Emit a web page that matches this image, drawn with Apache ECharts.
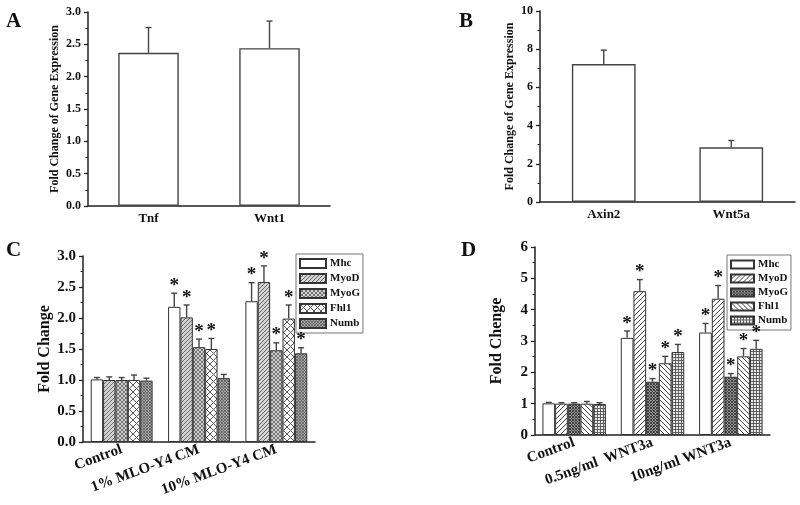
<!DOCTYPE html>
<html><head><meta charset="utf-8">
<script src="https://cdn.jsdelivr.net/npm/echarts@6/dist/echarts.min.js"></script>
<style>html,body{margin:0;padding:0;background:#fff}#c{width:800px;height:505px}</style>
</head><body><div id="c"></div>
<script>
// ---------- data ----------
const aCats = ['Tnf', 'Wnt1'];
const aVals = [2.37, 2.44];
const aErrTop = [2.76, 2.86];

const bCats = ['Axin2', 'Wnt5a'];
const bVals = [7.22, 2.86];
const bErrTop = [7.95, 3.22];

const genes = ['Mhc', 'MyoD', 'MyoG', 'Fhl1', 'Numb'];

const cCats = ['Control', '1% MLO-Y4 CM', '10% MLO-Y4 CM'];
const cMhc  = [1.01, 2.18, 2.27];
const cMyoD = [1.00, 2.01, 2.58];
const cMyoG = [1.00, 1.53, 1.48];
const cFhl1 = [1.00, 1.50, 1.99];
const cNumb = [0.99, 1.03, 1.43];
const cMhcErr  = [1.04, 2.40, 2.57];
const cMyoDErr = [1.05, 2.21, 2.84];
const cMyoGErr = [1.04, 1.66, 1.60];
const cFhl1Err = [1.08, 1.67, 2.21];
const cNumbErr = [1.03, 1.09, 1.52];
const cMhcStar  = [0, 1, 1];
const cMyoDStar = [0, 1, 1];
const cMyoGStar = [0, 1, 1];
const cFhl1Star = [0, 1, 1];
const cNumbStar = [0, 0, 1];

const dCats = ['Control', '0.5ng/ml  WNT3a', '10ng/ml WNT3a'];
const dMhc  = [1.01, 3.10, 3.27];
const dMyoD = [1.00, 4.59, 4.35];
const dMyoG = [1.00, 1.70, 1.86];
const dFhl1 = [1.00, 2.29, 2.51];
const dNumb = [0.99, 2.65, 2.75];
const dMhcErr  = [1.04, 3.32, 3.56];
const dMyoDErr = [1.03, 4.96, 4.77];
const dMyoGErr = [1.03, 1.80, 1.96];
const dFhl1Err = [1.07, 2.51, 2.76];
const dNumbErr = [1.03, 2.89, 3.02];
const dMhcStar  = [0, 1, 1];
const dMyoDStar = [0, 1, 1];
const dMyoGStar = [0, 1, 1];
const dFhl1Star = [0, 1, 1];
const dNumbStar = [0, 1, 1];

const aTicks = {min: 0, max: 3, interval: 0.5};
const bTicks = {min: 0, max: 10, interval: 2};
const cTicks = {min: 0, max: 3, interval: 0.5};
const dTicks = {min: 0, max: 6, interval: 1};

// ---------- helpers ----------
const FONT = "'Liberation Serif','Times New Roman',serif";
function pat(size, bg, fg, kinds, lw) {
  const c = document.createElement('canvas');
  c.width = c.height = size;
  const g = c.getContext('2d');
  g.fillStyle = bg; g.fillRect(0, 0, size, size);
  g.strokeStyle = fg; g.lineWidth = lw || 1;
  g.beginPath();
  kinds.forEach(k => {
    if (k === '/') {
      g.moveTo(-1, size + 1); g.lineTo(size + 1, -1);
      g.moveTo(-1, 1); g.lineTo(1, -1);
      g.moveTo(size - 1, size + 1); g.lineTo(size + 1, size - 1);
    }
    if (k === '\\') {
      g.moveTo(-1, -1); g.lineTo(size + 1, size + 1);
      g.moveTo(size - 1, -1); g.lineTo(size + 1, 1);
      g.moveTo(-1, size - 1); g.lineTo(1, size + 1);
    }
    if (k === '+') {
      g.moveTo(0, 0.5); g.lineTo(size, 0.5);
      g.moveTo(0.5, 0); g.lineTo(0.5, size);
    }
  });
  g.stroke();
  return {image: c, repeat: 'repeat'};
}
const cFills = [
  '#ffffff',
  pat(4, '#d4d4d4', '#666', ['/'], 1),
  pat(4, '#d0d0d0', '#6a6a6a', ['/', '\\'], 0.9),
  pat(7, '#ffffff', '#555', ['/', '\\'], 1),
  pat(3, '#a8a8a8', '#5a5a5a', ['/', '\\'], 0.8)
];
const dFills = [
  '#ffffff',
  pat(5, '#ffffff', '#444', ['/'], 1),
  pat(3, '#9a9a9a', '#333', ['/', '\\'], 0.9),
  pat(5, '#ffffff', '#444', ['\\'], 1),
  pat(3, '#e8e8e8', '#555', ['+'], 0.9)
];

function errSeries(axisIdx, idx, n, gap, vals, tops, stars, capHalf, starSize) {
  const data = vals.map((v, i) => [i, v, tops[i], stars ? stars[i] : 0]);
  return {
    type: 'custom', xAxisIndex: axisIdx, yAxisIndex: axisIdx, z: 10, silent: true,
    encode: {x: 0, y: 1}, data,
    renderItem(params, api) {
      const cat = api.value(0), v = api.value(1), e = api.value(2), s = api.value(3);
      const p = api.coord([cat, v]), t = api.coord([cat, e]);
      const band = api.size([1, 0])[0];
      const inner = band * (1 - gap);
      const bw = inner / n;
      const x = p[0] - inner / 2 + (idx + 0.5) * bw;
      const ch = [
        {type: 'line', shape: {x1: x, y1: p[1], x2: x, y2: t[1]}, style: {stroke: '#444', lineWidth: 1.4}},
        {type: 'line', shape: {x1: x - capHalf, y1: t[1], x2: x + capHalf, y2: t[1]}, style: {stroke: '#444', lineWidth: 1.4}}
      ];
      if (s) ch.push({type: 'text', x: x, y: t[1] + starSize * 0.12,
        style: {text: '*', fontSize: starSize, fontWeight: 'bold', fontFamily: FONT, fill: '#111', align: 'center', verticalAlign: 'bottom'}});
      return {type: 'group', children: ch};
    }
  };
}

function xAx(gi, cats, fs, rot, margin) {
  return {
    type: 'category', gridIndex: gi, data: cats,
    axisLine: {lineStyle: {color: '#222', width: 1.5}},
    axisTick: {alignWithLabel: true, length: 4, lineStyle: {color: '#222', width: 1.3}},
    axisLabel: {fontFamily: FONT, fontWeight: 'bold', fontSize: fs, color: '#111', rotate: rot, margin: margin, interval: 0}
  };
}
function yAx(gi, t, fs, name, nfs, ngap, fmt) {
  return {
    type: 'value', gridIndex: gi, min: t.min, max: t.max, interval: t.interval,
    name: name, nameLocation: 'middle', nameRotate: 90, nameGap: ngap,
    nameTextStyle: {fontFamily: FONT, fontWeight: 'bold', fontSize: nfs, color: '#111'},
    axisLine: {show: true, lineStyle: {color: '#222', width: 1.5}},
    axisTick: {show: true, length: 4, lineStyle: {color: '#222', width: 1.3}},
    minorTick: {show: true, splitNumber: 2, length: 2.5, lineStyle: {color: '#222', width: 1}},
    splitLine: {show: false},
    axisLabel: {fontFamily: FONT, fontWeight: 'bold', fontSize: fs, color: '#111', margin: 7, formatter: fmt}
  };
}

const series = [];
// A
series.push({type: 'bar', name: 'A', xAxisIndex: 0, yAxisIndex: 0, data: aVals, barCategoryGap: '50%',
  itemStyle: {color: '#fff', borderColor: '#444', borderWidth: 1.4}});
series.push(errSeries(0, 0, 1, 0.5, aVals, aErrTop, null, 3, 14));
// B
series.push({type: 'bar', name: 'B', xAxisIndex: 1, yAxisIndex: 1, data: bVals, barCategoryGap: '50%',
  itemStyle: {color: '#fff', borderColor: '#444', borderWidth: 1.4}});
series.push(errSeries(1, 0, 1, 0.5, bVals, bErrTop, null, 3, 14));
// C
const cV = [cMhc, cMyoD, cMyoG, cFhl1, cNumb];
const cE = [cMhcErr, cMyoDErr, cMyoGErr, cFhl1Err, cNumbErr];
const cS = [cMhcStar, cMyoDStar, cMyoGStar, cFhl1Star, cNumbStar];
genes.forEach((g, i) => {
  series.push({type: 'bar', name: 'C ' + g, xAxisIndex: 2, yAxisIndex: 2, data: cV[i], barGap: '0%', barCategoryGap: '20%',
    itemStyle: {color: cFills[i], borderColor: '#333', borderWidth: 1}});
});
genes.forEach((g, i) => series.push(errSeries(2, i, 5, 0.2, cV[i], cE[i], cS[i], 3, 19)));
// D
const dV = [dMhc, dMyoD, dMyoG, dFhl1, dNumb];
const dE = [dMhcErr, dMyoDErr, dMyoGErr, dFhl1Err, dNumbErr];
const dS = [dMhcStar, dMyoDStar, dMyoGStar, dFhl1Star, dNumbStar];
genes.forEach((g, i) => {
  series.push({type: 'bar', name: 'D ' + g, xAxisIndex: 3, yAxisIndex: 3, data: dV[i], barGap: '0%', barCategoryGap: '19%',
    itemStyle: {color: dFills[i], borderColor: '#333', borderWidth: 1}});
});
genes.forEach((g, i) => series.push(errSeries(3, i, 5, 0.19, dV[i], dE[i], dS[i], 3, 19)));

function legendOf(prefix, left, top, iw, ih, gap) {
  return {
    orient: 'vertical', left: left, top: top, data: genes.map(g => prefix + g),
    formatter: n => n.slice(2), icon: 'rect', itemWidth: iw, itemHeight: ih, itemGap: gap,
    padding: [4, 3, 4, 3], borderColor: '#777', borderWidth: 1, backgroundColor: '#fff',
    textStyle: {fontFamily: FONT, fontWeight: 'bold', fontSize: 11, color: '#111', padding: [0, 0, 0, -1]},
    selectedMode: false
  };
}

const option = {
  backgroundColor: '#fff',
  animation: false,
  grid: [
    {left: 88, top: 12, width: 242, height: 194},
    {left: 540, top: 11, width: 255, height: 191},
    {left: 83, top: 256, width: 232, height: 186},
    {left: 535, top: 247, width: 235, height: 188}
  ],
  xAxis: [
    xAx(0, aCats, 13, 0, 6),
    xAx(1, bCats, 13, 0, 6),
    xAx(2, cCats, 15, 20, 7),
    xAx(3, dCats, 15, 20, 7)
  ],
  yAxis: [
    yAx(0, aTicks, 12, 'Fold Change of Gene Expression', 12, 27, v => v.toFixed(1)),
    yAx(1, bTicks, 12, 'Fold Change of Gene Expression', 12, 24, v => String(v)),
    yAx(2, cTicks, 15, 'Fold Change', 16, 30, v => v.toFixed(1)),
    yAx(3, dTicks, 15, 'Fold Chenge', 16, 30, v => String(v))
  ],
  legend: [
    legendOf('C ', 296, 254, 26, 9, 4),
    legendOf('D ', 727, 255, 23, 8, 3)
  ],
  graphic: [
    {type: 'text', left: 6, top: 11, style: {text: 'A', fontFamily: FONT, fontWeight: 'bold', fontSize: 21, fill: '#111'}},
    {type: 'text', left: 459, top: 11, style: {text: 'B', fontFamily: FONT, fontWeight: 'bold', fontSize: 21, fill: '#111'}},
    {type: 'text', left: 6, top: 240, style: {text: 'C', fontFamily: FONT, fontWeight: 'bold', fontSize: 21, fill: '#111'}},
    {type: 'text', left: 461, top: 240, style: {text: 'D', fontFamily: FONT, fontWeight: 'bold', fontSize: 21, fill: '#111'}}
  ],
  series: series
};
const chart = echarts.init(document.getElementById('c'), null, {renderer: 'canvas'});
chart.setOption(option);
</script>
</body></html>
